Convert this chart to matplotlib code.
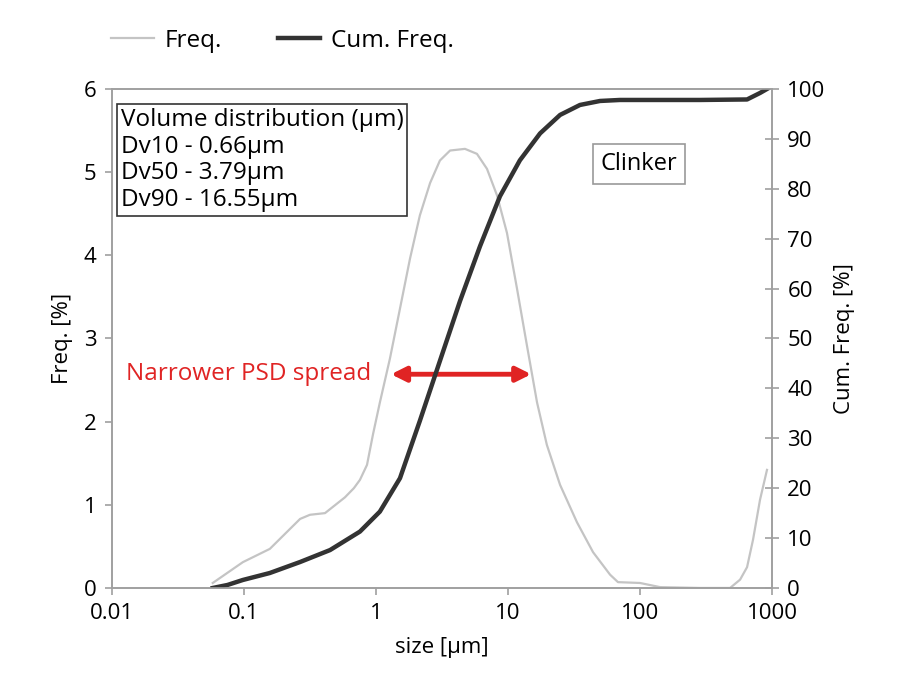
import matplotlib
matplotlib.use("Agg")
from matplotlib import pyplot as plt

plt.rcParams['font.family'] = ['Open Sans', 'DejaVu Sans']

# particle size [um] and frequency [%]
freq_size = [0.058, 0.098, 0.157, 0.266, 0.316, 0.411, 0.582, 0.68, 0.756, 0.855,
             0.95, 1.07, 1.276, 1.52, 1.81, 2.15, 2.57, 3.05, 3.64, 4.72,
             5.82, 6.93, 8.26, 9.82, 11.7, 13.9, 16.6, 19.7, 24.8, 33.3,
             44.1, 59.3, 68.1, 100, 142, 285, 481, 573, 647, 718,
             811, 916]
freq = [0.06, 0.31, 0.47, 0.83, 0.88, 0.9, 1.09, 1.2, 1.3, 1.48,
        1.85, 2.23, 2.76, 3.36, 3.96, 4.48, 4.87, 5.14, 5.26, 5.28,
        5.22, 5.04, 4.72, 4.27, 3.6, 2.92, 2.23, 1.72, 1.24, 0.79,
        0.43, 0.16, 0.07, 0.06, 0.01, 0.0, 0.0, 0.1, 0.25, 0.58,
        1.06, 1.42]

# cumulative frequency [%]
cum_size = [0.058, 0.075, 0.098, 0.157, 0.266, 0.449, 0.756, 1.07, 1.52, 2.15,
            3.05, 4.33, 6.14, 8.69, 12.3, 17.5, 24.8, 35.1, 49.8, 70.5,
            285, 647, 811, 916]
cum = [0, 0.6, 1.6, 3.0, 5.2, 7.6, 11.3, 15.3, 22.0, 33.5,
       45.5, 57.5, 68.5, 78.5, 85.7, 91.1, 94.8, 96.8, 97.6, 97.8,
       97.8, 97.9, 99.2, 100]

box_lines = ["Volume distribution (µm)", "Dv10 - 0.66µm", "Dv50 - 3.79µm", "Dv90 - 16.55µm"]
spread_lo, spread_hi, spread_y = 1.3, 15.0, 2.57

fig = plt.figure(figsize=(9, 6.84), dpi=100)
ax = fig.add_axes([0.1244, 0.1404, 0.7334, 0.7295])
ax2 = ax.twinx()

l1, = ax.plot(freq_size, freq, color='#c4c4c4', lw=1.6, label='Freq.')
l2, = ax2.plot(cum_size, cum, color='#333333', lw=3.2, label='Cum. Freq.')

ax.set_xscale('log')
ax.set_xlim(0.01, 1000)
ax.set_ylim(0, 6)
ax2.set_ylim(0, 100)
ax.set_xticks([0.01, 0.1, 1, 10, 100, 1000])
ax.set_xticklabels(['0.01', '0.1', '1', '10', '100', '1000'])
ax.minorticks_off()
ax.set_yticks(range(7))
ax2.set_yticks(range(0, 101, 10))

for a in (ax, ax2):
    for s in a.spines.values():
        s.set_color('#a0a0a0')
        s.set_linewidth(1.2)
ax.tick_params(axis='both', labelsize=16, color='#a0a0a0', length=5, width=1.2, pad=6)
ax2.tick_params(axis='y', labelsize=16, color='#a0a0a0', direction='inout', length=10, width=1.2, pad=6)

ax.set_xlabel('size [µm]', fontsize=16, labelpad=9)
ax.set_ylabel('Freq. [%]', fontsize=16, labelpad=8)
ax2.set_ylabel('Cum. Freq. [%]', fontsize=16, labelpad=6)

ax.text(0.013, 0.962, "\n".join(box_lines), transform=ax.transAxes, fontsize=17.5,
        va='top', ha='left', linespacing=1.15,
        bbox=dict(boxstyle='square,pad=0.15', fc='white', ec='#333333', lw=1.2))
ax.text(0.798, 0.85, 'Clinker', transform=ax.transAxes, fontsize=17,
        va='center', ha='center',
        bbox=dict(boxstyle='square,pad=0.33', fc='white', ec='#999999', lw=1.2))

ax.annotate('', xy=(spread_lo, spread_y), xytext=(spread_hi, spread_y),
            arrowprops=dict(arrowstyle='<|-|>', color='#e02424', lw=3.5,
                            mutation_scale=22, shrinkA=0, shrinkB=0))
ax.text(0.92, spread_y, 'Narrower PSD spread', color='#e02424', fontsize=17.5,
        va='center', ha='right')

fig.legend(handles=[l1, l2], loc='upper left', bbox_to_anchor=(0.099, 0.99),
           ncol=2, frameon=False, fontsize=17.5, handlelength=1.75,
           handletextpad=0.45, columnspacing=2.3)

fig.savefig('out.png', dpi=100)
